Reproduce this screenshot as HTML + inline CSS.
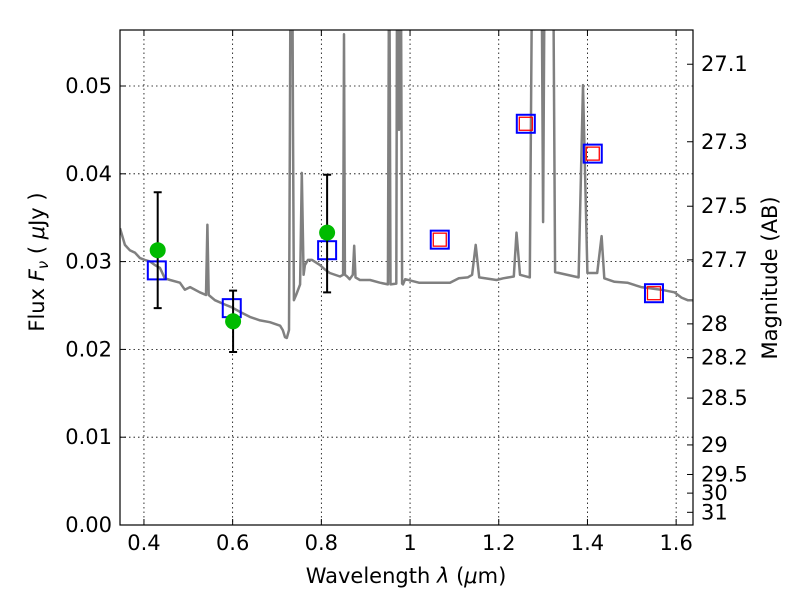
<!DOCTYPE html>
<html><head><meta charset="utf-8"><style>
html,body{margin:0;padding:0;background:#fff;}
svg{display:block;font-family:"DejaVu Sans","Liberation Sans",sans-serif;}
</style></head><body>
<svg id="chart" width="800" height="600" viewBox="0 0 800 600">
<defs><clipPath id="clip"><rect x="120" y="30" width="573" height="495"/></clipPath></defs>
<g id="grid"></g>
<g id="spec" clip-path="url(#clip)"></g>
<g id="marks"></g>
<rect x="120" y="30" width="573" height="495" fill="none" stroke="#000" stroke-width="1.2"/>
<g id="axes"></g>
<text x="406" y="583" font-size="21" text-anchor="middle">Wavelength  <tspan font-style="italic">λ</tspan> (<tspan font-style="italic">μ</tspan>m)</text>
<text transform="translate(44,262) rotate(-90)" font-size="21" text-anchor="middle">Flux  <tspan font-style="italic">F</tspan><tspan font-style="italic" font-size="15" dy="4">ν</tspan><tspan dy="-4">  ( </tspan><tspan font-style="italic">μ</tspan>Jy )</text>
<text transform="translate(777,278) rotate(-90)" font-size="21" text-anchor="middle">Magnitude (AB)</text>
</svg>
<script>
const xTicks=[0.4,0.6,0.8,1.0,1.2,1.4,1.6];
const xTickLabels=["0.4","0.6","0.8","1","1.2","1.4","1.6"];
const yTicks=[0,0.01,0.02,0.03,0.04,0.05];
const yTickLabels=["0.00","0.01","0.02","0.03","0.04","0.05"];
const magTicks=[27.1,27.3,27.5,27.7,28,28.2,28.5,29,29.5,30,31];
const specWave=[0.346,0.357,0.368,0.380,0.391,0.402,0.414,0.425,0.436,0.447,0.459,0.481,0.492,0.504,0.526,0.540,0.543,0.546,0.560,0.583,0.598,0.616,0.639,0.662,0.684,0.707,0.713,0.718,0.722,0.727,0.729,0.731,0.734,0.736,0.738,0.743,0.752,0.756,0.760,0.763,0.770,0.779,0.797,0.808,0.819,0.842,0.849,0.851,0.853,0.858,0.864,0.871,0.874,0.877,0.887,0.910,0.932,0.950,0.953,0.956,0.969,0.971,0.973,0.975,0.977,0.979,0.982,0.984,0.989,1.02,1.09,1.11,1.13,1.14,1.148,1.156,1.195,1.21,1.234,1.240,1.248,1.270,1.276,1.296,1.300,1.304,1.322,1.327,1.380,1.390,1.400,1.422,1.432,1.438,1.461,1.490,1.521,1.566,1.596,1.612,1.626,1.64];
const specFlux=[0.0338,0.0319,0.0313,0.0310,0.0304,0.0302,0.0300,0.0296,0.0293,0.0281,0.0279,0.0276,0.0268,0.0271,0.0265,0.0262,0.0342,0.0262,0.0256,0.0251,0.0248,0.0243,0.0237,0.0233,0.0231,0.0227,0.0222,0.0214,0.0213,0.0222,0.045,0.07,0.07,0.045,0.0256,0.0262,0.0274,0.0401,0.0285,0.0296,0.0302,0.0302,0.0296,0.0291,0.0287,0.0283,0.0285,0.0559,0.0285,0.0283,0.0280,0.0285,0.0318,0.0282,0.0279,0.0279,0.0276,0.0274,0.07,0.0274,0.0275,0.07,0.07,0.045,0.07,0.07,0.0275,0.0274,0.0280,0.0276,0.0276,0.0281,0.0282,0.0285,0.0319,0.0282,0.0279,0.0281,0.0283,0.0333,0.0285,0.0282,0.07,0.07,0.0345,0.07,0.07,0.0288,0.0282,0.0501,0.0287,0.0287,0.0329,0.0281,0.0277,0.0276,0.0271,0.0268,0.0265,0.0259,0.0256,0.0256];
const modelWave=[0.429,0.598,0.813,1.067,1.261,1.412,1.550];
const modelFlux=[0.0290,0.0247,0.0313,0.0325,0.0457,0.0423,0.0264];
const synWave=[1.067,1.261,1.412,1.550];
const synFlux=[0.0325,0.0457,0.0423,0.0264];
const obsWave=[0.431,0.601,0.813];
const obsFlux=[0.0313,0.0232,0.0333];
const obsLo=[0.0247,0.0197,0.0265];
const obsHi=[0.0379,0.0267,0.0399];

const NS='http://www.w3.org/2000/svg';
const X0=120,X1=693,Y0=525,Y1=30,XMIN=0.346,XMAX=1.638,YMIN=0,YMAX=0.05638;
function xs(v){return X0+(v-XMIN)/(XMAX-XMIN)*(X1-X0);}
function ys(v){return Y0-(v-YMIN)/(YMAX-YMIN)*(Y0-Y1);}
function magToFlux(m){return Math.pow(10,(23.9-m)/2.5);}
function mk(tag,attrs,parent){const e=document.createElementNS(NS,tag);for(const k in attrs)e.setAttribute(k,attrs[k]);parent.appendChild(e);return e;}
const grid=document.getElementById('grid'),axes=document.getElementById('axes'),spec=document.getElementById('spec'),marks=document.getElementById('marks');

xTicks.forEach((t,i)=>{const x=xs(t);
 const g=mk('line',{x1:x,x2:x,y1:Y1,y2:Y0,stroke:'#000','stroke-width':0.8,'stroke-dasharray':'1.5,3'},grid);
 
 const a=mk('line',{x1:x,x2:x,y1:Y0,y2:Y0-6,stroke:'#000'},axes);
 const b=mk('line',{x1:x,x2:x,y1:Y1,y2:Y1+6,stroke:'#000'},axes);
 const tx=mk('text',{x:x,y:Y0+25,'font-size':21,'text-anchor':'middle'},axes);tx.textContent=xTickLabels[i];
 });
yTicks.forEach((t,i)=>{const y=ys(t);
 const g=mk('line',{x1:X0,x2:X1,y1:y,y2:y,stroke:'#000','stroke-width':0.8,'stroke-dasharray':'1.5,3'},grid);
 
 const a=mk('line',{x1:X0,x2:X0+6,y1:y,y2:y,stroke:'#000'},axes);
 const tx=mk('text',{x:X0-8,y:y+7,'font-size':21,'text-anchor':'end'},axes);tx.textContent=yTickLabels[i];
 });
magTicks.forEach(m=>{const y=ys(magToFlux(m));
 const a=mk('line',{x1:X1-6,x2:X1,y1:y,y2:y,stroke:'#000'},axes);
 const tx=mk('text',{x:X1+8,y:y+7,'font-size':21},axes);tx.textContent=String(m);
 });

let d='';specWave.forEach((w,i)=>{d+=(i?'L':'M')+xs(w).toFixed(1)+','+ys(specFlux[i]).toFixed(1);});
const sp=mk('path',{d:d,fill:'none',stroke:'#808080','stroke-width':2.5,'stroke-linejoin':'round'},spec);


modelWave.forEach((w,i)=>{const x=xs(w),y=ys(modelFlux[i]);
 const r=mk('rect',{x:x-9,y:y-9,width:18,height:18,fill:'none',stroke:'#0000ff','stroke-width':2},marks);
 });
synWave.forEach((w,i)=>{const x=xs(w),y=ys(synFlux[i]);
 const r=mk('rect',{x:x-6.5,y:y-6.5,width:13,height:13,fill:'none',stroke:'#ff0000','stroke-width':1.3},marks);
 });
obsWave.forEach((w,i)=>{const x=xs(w),lo=ys(obsLo[i]),hi=ys(obsHi[i]);
 const e=mk('path',{d:`M${x},${lo}L${x},${hi}M${x-4},${lo}L${x+4},${lo}M${x-4},${hi}L${x+4},${hi}`,stroke:'#000','stroke-width':2,fill:'none'},marks);
 
 const c=mk('circle',{cx:x,cy:ys(obsFlux[i]),r:8,fill:'#00bb00'},marks);
 });
</script>
</body></html>
